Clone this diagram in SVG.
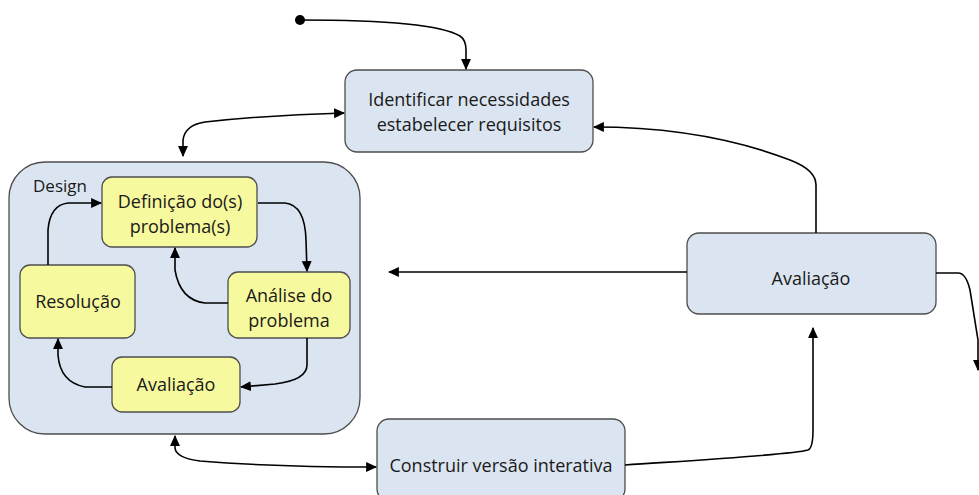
<svg xmlns="http://www.w3.org/2000/svg" width="979" height="495" viewBox="0 0 979 495">
<defs>
<style>
.b{fill:#dbe5f1;stroke:#4d4d4d;stroke-width:1.3}
.y{fill:#f7f99e;stroke:#4d4d4d;stroke-width:1.3}
.t{font-family:"Open Sans","Liberation Sans",sans-serif;font-size:18px;fill:#1a1a1a;text-anchor:middle}
.c{fill:none;stroke:#000;stroke-width:1.6}
</style>
<marker id="a" viewBox="0 0 10 10" refX="9" refY="5" markerWidth="11" markerHeight="11" orient="auto-start-reverse" markerUnits="userSpaceOnUse"><path d="M0,0.5 L10,5 L0,9.5 z" fill="#000"/></marker>
</defs>
<rect width="979" height="495" fill="#fff"/>
<g id="design">
<rect class="b" x="9" y="162" width="351" height="272" rx="36"/>
<text x="33" y="192" class="t" style="text-anchor:start;font-size:17px">Design</text>
</g>
<g id="identificar">
<rect class="b" x="345" y="70" width="248" height="82" rx="12"/>
<text class="t" x="469" y="106">Identificar necessidades</text>
<text class="t" x="469" y="131">estabelecer requisitos</text>
</g>
<g id="avaliacao">
<rect class="b" x="687" y="233" width="249" height="81" rx="12"/>
<text class="t" x="811" y="285">Avaliação</text>
</g>
<g id="construir">
<rect class="b" x="377" y="419" width="248" height="82" rx="12"/>
<text class="t" x="501" y="472">Construir versão interativa</text>
</g>
<g id="definicao">
<rect class="y" x="102" y="177" width="155" height="70" rx="10"/>
<text class="t" x="180" y="208">Definição do(s)</text>
<text class="t" x="180" y="233">problema(s)</text>
</g>
<g id="analise">
<rect class="y" x="228" y="272" width="122" height="66" rx="10"/>
<text class="t" x="289" y="302">Análise do</text>
<text class="t" x="289" y="327">problema</text>
</g>
<g id="resolucao">
<rect class="y" x="20" y="265" width="115" height="73" rx="10"/>
<text class="t" x="78" y="308">Resolução</text>
</g>
<g id="avaliacao2">
<rect class="y" x="112" y="357" width="128" height="55" rx="10"/>
<text class="t" x="176" y="391">Avaliação</text>
</g>
<g id="connectors">
<circle cx="300" cy="20" r="5" fill="#000"/>
<path class="c" d="M300,20 C380,20 440,24 460,36 Q466,40 466,50 L466,69" marker-end="url(#a)"/>
<path class="c" d="M183,156 L183,140 Q185,125 205,122 C260,116 300,114 344,113" marker-start="url(#a)" marker-end="url(#a)"/>
<path class="c" d="M816,233 L816,185 Q816,170 790,160 C720,133 650,127 594,127" marker-end="url(#a)"/>
<path class="c" d="M687,272 L389,272" marker-end="url(#a)"/>
<path class="c" d="M936,273 L958,273 Q966,273 970,290 L978,340 L978,370" marker-end="url(#a)"/>
<path class="c" d="M625,465 C700,460 790,455 808,450 Q813,448 813,430 L813,328" marker-end="url(#a)"/>
<path class="c" d="M175,436 L175,448 Q176,458 200,461 C260,466 320,467 376,467" marker-start="url(#a)" marker-end="url(#a)"/>
<path class="c" d="M48,265 L48,230 Q50,205 68,203 L101,203" marker-end="url(#a)"/>
<path class="c" d="M258,203 L285,203 Q305,205 306,240 L307,271" marker-end="url(#a)"/>
<path class="c" d="M228,303 L205,303 Q180,300 175,270 L175,248" marker-end="url(#a)"/>
<path class="c" d="M307,338 L307,365 Q307,380 275,384 L241,387" marker-end="url(#a)"/>
<path class="c" d="M112,387 L85,387 Q60,382 58,355 L58,339" marker-end="url(#a)"/>
</g>
</svg>
